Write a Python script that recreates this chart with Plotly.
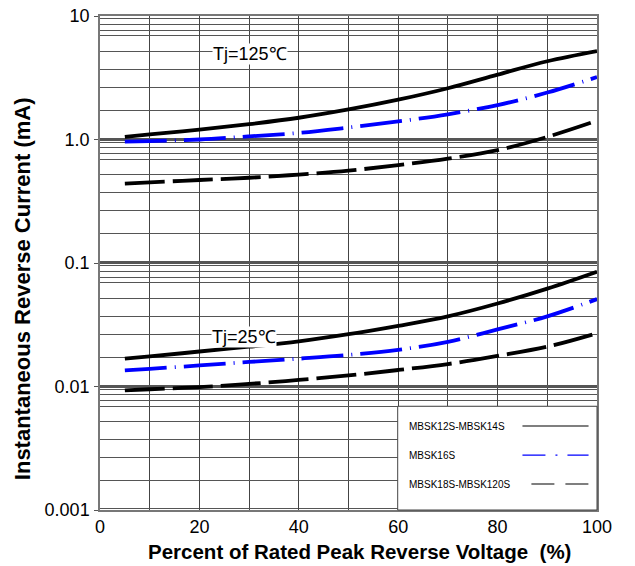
import plotly.graph_objects as go

# ---------------- data ----------------
voltage_pct = [5, 10, 20, 30, 40, 50, 60, 70, 80, 90, 100]

# Tj = 125 C
ir_125_mbsk12_14 = [1.05, 1.10, 1.20, 1.33, 1.50, 1.75, 2.10, 2.60, 3.35, 4.30, 5.20]
ir_125_mbsk16 = [0.96, 0.97, 1.00, 1.06, 1.13, 1.25, 1.40, 1.60, 1.90, 2.40, 3.20]
ir_125_mbsk18_120 = [0.44, 0.45, 0.47, 0.49, 0.52, 0.56, 0.62, 0.70, 0.82, 1.05, 1.42]

# Tj = 25 C
ir_25_mbsk12_14 = [0.0168, 0.0175, 0.0192, 0.0210, 0.0232, 0.0265, 0.0310, 0.0370, 0.0470, 0.0620, 0.0850]
ir_25_mbsk16 = [0.0135, 0.0139, 0.0148, 0.0158, 0.0168, 0.0180, 0.0198, 0.0230, 0.0290, 0.0370, 0.0510]
ir_25_mbsk18_120 = [0.0093, 0.0095, 0.0099, 0.0105, 0.0113, 0.0123, 0.0136, 0.0152, 0.0177, 0.0210, 0.0270]

series_names = ["MBSK12S-MBSK14S", "MBSK16S", "MBSK18S-MBSK120S"]

y_tick_vals = [0.001, 0.01, 0.1, 1.0, 10]
y_tick_text = ["0.001", "0.01", "0.1", "1.0", "10"]
x_tick_vals = [0, 20, 40, 60, 80, 100]
decades = [0.001, 0.01, 0.1, 1.0]
# positions of the printed grid lines inside each decade (fraction of upper decade value)
grid_factors = [0.946, 0.861, 0.764, 0.689, 0.516, 0.369, 0.264, 0.172, 0.1028]

x_title = "<b>Percent of Rated Peak Reverse Voltage  (%)</b>"
y_title = "<b>Instantaneous Reverse Current (mA)</b>"

# ---------------- styles ----------------
BLUE = "#0000FF"
styles = [
    dict(color="black", dash="solid"),
    dict(color=BLUE, dash="42px,8px,1px,8px"),
    dict(color="black", dash="40px,8px"),
]
LW = 3.8
FONT = "Arial"

fig = go.Figure()
for ys, st in zip([ir_125_mbsk12_14, ir_125_mbsk16, ir_125_mbsk18_120], styles):
    fig.add_trace(go.Scatter(x=voltage_pct, y=ys, mode="lines", line_shape="spline",
                             line=dict(color=st["color"], dash=st["dash"], width=LW),
                             showlegend=False, hoverinfo="skip"))
for ys, st in zip([ir_25_mbsk12_14, ir_25_mbsk16, ir_25_mbsk18_120], styles):
    fig.add_trace(go.Scatter(x=voltage_pct, y=ys, mode="lines", line_shape="spline",
                             line=dict(color=st["color"], dash=st["dash"], width=LW),
                             showlegend=False, hoverinfo="skip"))

minor_vals = [d * 10 * f for d in decades for f in grid_factors]

fig.update_xaxes(range=[0, 100], tickvals=x_tick_vals, ticks="", showgrid=True,
                 gridcolor="#444", gridwidth=1, automargin=False,
                 ticklabeloverflow="allow",
                 minor=dict(dtick=10, showgrid=True, gridcolor="#444", gridwidth=1),
                 showline=True, linecolor="#777", linewidth=1.5, mirror=True, zeroline=False,
                 tickfont=dict(family=FONT, size=18, color="black"))
fig.update_yaxes(type="log", range=[-3, 1], tickvals=y_tick_vals, ticktext=y_tick_text,
                 ticks="outside", ticklen=4, tickcolor="#555", automargin=False,
                 ticklabelstandoff=1, ticklabeloverflow="allow",
                 showgrid=True, gridcolor="#555", gridwidth=1.5,
                 minor=dict(tickmode="array", tickvals=minor_vals, showgrid=True,
                            gridcolor="#555", gridwidth=1, ticks=""),
                 showline=True, linecolor="#777", linewidth=1.5, mirror=True,
                 tickfont=dict(family=FONT, size=18, color="black"))

annotations = [
    dict(x=30.2, y=0.924, xref="x", yref="paper", text="Tj=125℃", showarrow=False,
         xanchor="center", yanchor="middle",
         font=dict(family=FONT, size=18, color="black"), bgcolor="white", borderpad=0),
    dict(x=28.9, y=0.350, xref="x", yref="paper", text="Tj=25℃", showarrow=False,
         xanchor="center", yanchor="middle",
         font=dict(family=FONT, size=18, color="black"), bgcolor="white", borderpad=0),
    # axis titles
    dict(x=0.5226, y=-0.083, xref="paper", yref="paper", text=x_title, showarrow=False,
         xanchor="center", yanchor="middle", font=dict(family=FONT, size=20.5, color="black")),
    dict(x=-0.157, y=0.449, xref="paper", yref="paper", text=y_title, showarrow=False,
         textangle=-90, xanchor="center", yanchor="middle",
         font=dict(family=FONT, size=22, color="black")),
]
shapes = [dict(type="rect", xref="paper", yref="paper", x0=0.599, x1=1.0, y0=0.0, y1=0.210,
               fillcolor="white", line=dict(color="#444", width=1), layer="above")]

leg_y = [0.170, 0.111, 0.0526]
leg_dash = ["solid", "23px,10px,2px,10px", "23px,11px"]
leg_col = ["black", BLUE, "black"]
leg_x0 = [0.850, 0.850, 0.868]
for name, yy, dsh, col, lx0 in zip(series_names, leg_y, leg_dash, leg_col, leg_x0):
    annotations.append(dict(x=0.617, y=yy, xref="paper", yref="paper", text=name,
                            showarrow=False, xanchor="left", yanchor="middle",
                            font=dict(family=FONT, size=10, color="black")))
    shapes.append(dict(type="line", xref="paper", yref="paper", x0=lx0, x1=0.983,
                       y0=yy, y1=yy, line=dict(color=col, width=1.2, dash=dsh), layer="above"))

fig.update_layout(width=635, height=566, margin=dict(l=100, r=37.5, t=15.5, b=56),
                  plot_bgcolor="white", paper_bgcolor="white",
                  annotations=annotations, shapes=shapes, showlegend=False)

# remove the default page margin so the figure fills the window from its corner
fig.write_html("out.html", config={"displayModeBar": False},
               post_script="document.body.style.margin='0';document.body.style.overflow='hidden';")
